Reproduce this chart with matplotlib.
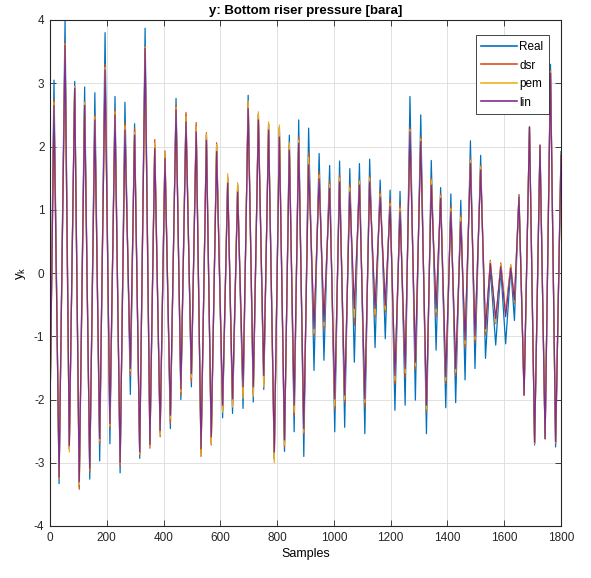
import numpy as np
import matplotlib
matplotlib.use('Agg')
import matplotlib.pyplot as plt

# Extrema of the signals (sample index, value)
samples = [0, 14, 32, 53, 68, 87, 103, 122, 140, 158, 175, 194, 211, 229, 247, 264, 283, 298,
	316, 335, 352, 369, 388, 405, 424, 444, 461, 479, 498, 515, 532, 551, 568, 587, 608, 626,
	643, 661, 680, 698, 716, 734, 753, 770, 790, 808, 826, 843, 860, 876, 894, 911, 930, 948,
	965, 985, 1003, 1020, 1038, 1056, 1072, 1090, 1109, 1126, 1145, 1163, 1181, 1198, 1215,
	1233, 1251, 1268, 1287, 1306, 1326, 1343, 1360, 1376, 1394, 1412, 1429, 1447, 1462, 1481,
	1497, 1517, 1534, 1551, 1570, 1588, 1605, 1623, 1636, 1652, 1670, 1689, 1707, 1726, 1744,
	1763, 1781, 1800]

real = [-2.2, 3.05, -3.33, 4.0, -2.78, 3.03, -3.38, 2.94, -3.26, 2.85, -2.97, 3.80, -2.70, 2.79,
	-3.16, 2.70, -1.92, 2.36, -2.93, 3.87, -2.72, 2.02, -2.52, 1.88, -2.46, 2.76, -2.00, 2.50,
	-1.80, 2.33, -2.85, 2.18, -2.68, 2.02, -2.29, 1.50, -2.22, 1.38, -2.14, 2.81, -2.04, 2.50,
	-1.84, 2.35, -2.93, 2.30, -2.82, 2.18, -2.51, 2.42, -2.90, 2.29, -1.54, 1.89, -1.38, 1.70,
	-2.51, 1.77, -2.44, 1.65, -1.41, 1.73, -2.54, 1.80, -1.18, 1.47, -1.04, 1.31, -2.17, 1.29,
	-2.09, 2.79, -2.01, 2.50, -2.54, 1.78, -1.22, 1.35, -2.13, 1.25, -2.05, 1.15, -1.69, 2.09,
	-1.51, 1.86, -1.35, 0.07, -1.14, 0.05, -1.12, 0.08, -0.75, 1.24, -1.93, 2.31, -2.72, 2.02,
	-2.62, 3.30, -2.75, 1.92]

dsr = [-2.2, 2.75, -3.25, 3.65, -2.78, 2.95, -3.42, 2.70, -3.15, 2.50, -2.70, 3.30, -2.45, 2.58,
	-3.05, 2.38, -1.62, 2.28, -2.88, 3.58, -2.77, 2.11, -2.59, 1.93, -2.38, 2.65, -1.93, 2.54,
	-1.72, 2.38, -2.90, 2.22, -2.72, 2.06, -2.18, 1.52, -2.10, 1.40, -1.95, 2.70, -1.92, 2.52,
	-1.75, 2.36, -2.95, 2.30, -2.75, 2.02, -2.25, 2.15, -2.55, 1.90, -1.00, 1.60, -0.90, 1.45,
	-2.15, 1.55, -2.05, 1.40, -0.83, 1.47, -2.12, 1.53, -0.70, 1.30, -0.62, 1.15, -1.75, 1.08,
	-1.65, 2.30, -1.52, 2.15, -2.20, 1.50, -0.70, 1.25, -1.75, 1.05, -1.62, 0.92, -1.18, 1.82,
	-1.10, 1.70, -0.98, 0.20, -0.80, 0.16, -0.62, 0.13, -0.48, 1.22, -1.93, 2.31, -2.70, 2.02,
	-2.62, 3.20, -2.70, 1.85]

pem = [-2.2, 2.70, -3.25, 3.62, -2.83, 2.95, -3.35, 2.70, -3.10, 2.47, -2.65, 3.25, -2.42, 2.55,
	-3.02, 2.33, -1.55, 2.22, -2.86, 3.57, -2.74, 2.05, -2.55, 1.90, -2.30, 2.62, -1.88, 2.48,
	-1.65, 2.32, -2.87, 2.20, -2.70, 2.03, -2.20, 1.57, -2.12, 1.43, -1.98, 2.72, -1.95, 2.55,
	-1.80, 2.39, -3.00, 2.34, -2.72, 2.06, -2.20, 2.10, -2.52, 1.83, -0.95, 1.55, -0.83, 1.40,
	-2.10, 1.50, -2.00, 1.35, -0.70, 1.45, -2.05, 1.50, -0.65, 1.25, -0.58, 1.10, -1.70, 1.03,
	-1.58, 2.27, -1.47, 2.12, -2.15, 1.47, -0.62, 1.22, -1.70, 1.02, -1.57, 0.88, -1.12, 1.78,
	-1.05, 1.68, -0.92, 0.18, -0.78, 0.14, -0.65, 0.12, -0.45, 1.22, -1.93, 2.31, -2.70, 2.02,
	-2.62, 3.18, -2.68, 1.87]

lin = [-2.2, 2.65, -3.23, 3.60, -2.73, 2.92, -3.30, 2.65, -3.09, 2.42, -2.62, 3.21, -2.38, 2.50,
	-3.00, 2.26, -1.51, 2.18, -2.83, 3.55, -2.71, 1.97, -2.49, 1.81, -2.25, 2.58, -1.83, 2.39,
	-1.59, 2.23, -2.78, 2.10, -2.59, 1.92, -2.09, 1.42, -1.99, 1.28, -1.80, 2.60, -1.80, 2.42,
	-1.62, 2.26, -2.83, 2.15, -2.64, 1.94, -2.09, 2.05, -2.46, 1.71, -0.88, 1.49, -0.77, 1.34,
	-1.99, 1.44, -1.93, 1.28, -0.56, 1.39, -1.99, 1.44, -0.56, 1.20, -0.51, 1.05, -1.62, 0.97,
	-1.51, 2.23, -1.41, 2.08, -2.09, 1.39, -0.56, 1.18, -1.64, 0.97, -1.51, 0.81, -1.06, 1.73,
	-1.00, 1.63, -0.88, 0.15, -0.72, 0.10, -0.69, 0.08, -0.43, 1.20, -1.93, 2.31, -2.68, 2.02,
	-2.62, 3.16, -2.67, 1.86]

series = [('Real', real, '#0072BD'), ('dsr', dsr, '#D95319'),
	('pem', pem, '#EDB120'), ('lin', lin, '#7E2F8E')]

# Fonts (Helvetica-like), plain hyphen for negative ticks
plt.rcParams['font.family'] = ['Liberation Sans', 'DejaVu Sans']
plt.rcParams['font.size'] = 8.5
plt.rcParams['axes.unicode_minus'] = False
plt.rcParams['mathtext.fontset'] = 'custom'
plt.rcParams['mathtext.rm'] = 'Liberation Sans'
plt.rcParams['mathtext.it'] = 'Liberation Sans'

fig = plt.figure(figsize = (5.91, 5.78), dpi = 100)
ax = fig.add_axes([50/591, 52/578, 511/591, 506/578])

for name, values, color in series:
	ax.plot(samples, values, color = color, linewidth = 0.9, label = name)

ax.set_xlim(0, 1800)
ax.set_ylim(-4, 4)
ax.set_xticks(np.arange(0, 1801, 200))
ax.set_yticks(np.arange(-4, 5, 1))
ax.grid(True, color = '#dcdcdc', linewidth = 0.6)
ax.set_axisbelow(True)
ax.tick_params(direction = 'in', top = True, right = True, length = 4, width = 0.6,
	colors = '#262626', labelsize = 8.5, pad = 4)
for spine in ax.spines.values():
	spine.set_color('#262626')
	spine.set_linewidth(0.8)

ax.set_title('y: Bottom riser pressure [bara]', fontweight = 'bold', fontsize = 9.5, pad = 4)
ax.set_xlabel('Samples', fontsize = 9, labelpad = 3)
ax.set_ylabel(r'y$_\mathrm{k}$', fontsize = 9.5, labelpad = 4)

leg = ax.legend(loc = 'upper right', bbox_to_anchor = (0.977, 0.970), borderaxespad = 0,
	fancybox = False, edgecolor = '#262626', framealpha = 1, handlelength = 3.0,
	handletextpad = 0.2, labelspacing = 0.55, borderpad = 0.5, fontsize = 8.5)
leg.get_frame().set_linewidth(0.6)
for line in leg.get_lines():
	line.set_linewidth(1.2)

plt.savefig('out.png', dpi = 100)
plt.close()
